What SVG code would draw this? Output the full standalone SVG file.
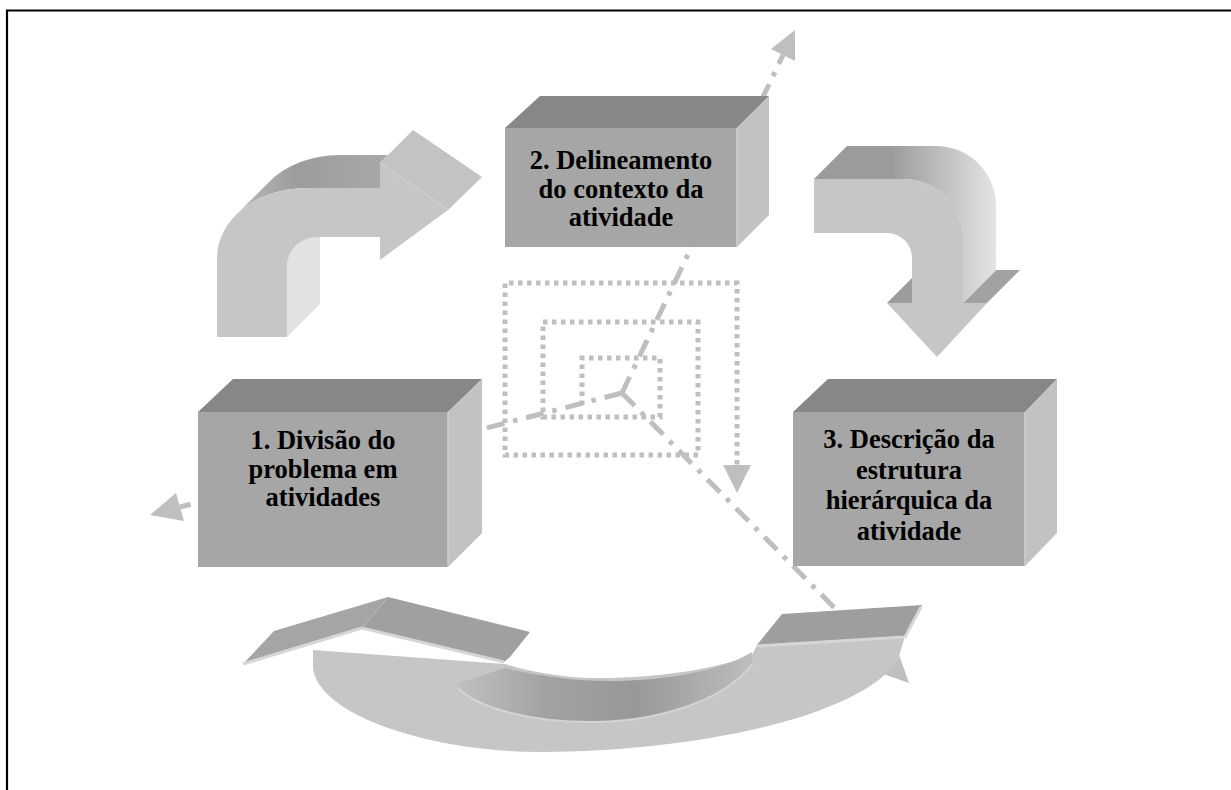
<svg xmlns="http://www.w3.org/2000/svg" width="1231" height="790" viewBox="0 0 1231 790">
<defs>
<style>
.front{fill:#a6a6a6}
.top{fill:#878787}
.side{fill:#c2c2c2}
.edge{fill:none;stroke:#cfcfcf;stroke-width:1.5}
.lbl{font-family:"Liberation Serif","Times New Roman",serif;font-weight:bold;font-size:26.5px;text-anchor:middle;fill:#000}
.dd{fill:none;stroke:#bfbfbf;stroke-width:5;stroke-dasharray:18 9 4.5 9}
.dot{fill:none;stroke:#bfbfbf;stroke-width:5;stroke-dasharray:4.5 4.5}
.ah{fill:#bfbfbf}
.af{fill:#c6c6c6}
.lip{fill:none;stroke:#d6d6d6;stroke-width:3;stroke-linejoin:round}
</style>
<linearGradient id="tlTop" gradientUnits="userSpaceOnUse" x1="236" y1="0" x2="390" y2="0">
<stop offset="0" stop-color="#bababa"/><stop offset="0.4" stop-color="#9c9c9c"/><stop offset="1" stop-color="#a9a9a9"/>
</linearGradient>
<linearGradient id="trCurve" gradientUnits="userSpaceOnUse" x1="890" y1="0" x2="996" y2="0">
<stop offset="0" stop-color="#9b9b9b"/><stop offset="1" stop-color="#e4e4e4"/>
</linearGradient>
<linearGradient id="band" gradientUnits="userSpaceOnUse" x1="458" y1="0" x2="752" y2="0">
<stop offset="0" stop-color="#c0c0c0"/><stop offset="0.3" stop-color="#a2a2a2"/><stop offset="0.6" stop-color="#989898"/><stop offset="1" stop-color="#bdbdbd"/>
</linearGradient>
</defs>
<rect x="0" y="0" width="1231" height="790" fill="#ffffff"/>
<path d="M7,790 L7,10.5 L1231,10.5" fill="none" stroke="#000" stroke-width="2.2"/>

<g id="connectors">
<path class="dot" d="M582,405 L582,358 L660,358 L660,417 L543,417 L543,322 L698,322 L698,455 L505,455 L505,283 L737,283 L737,466"/>
<polygon class="ah" points="723,465 751,465 737,493"/>
<path class="dd" d="M622,393 L783,55"/>
<polygon class="ah" points="795,30 795,61 771,49"/>
<path class="dd" d="M622,393 L180,507"/>
<polygon class="ah" points="150,515 176,493 184,521"/>
<path class="dd" d="M622,393 L888,662"/>
<polygon class="ah" points="909,683 898,652 878,672"/>
</g>

<g id="arrow-1-2">
<path fill="url(#tlTop)" d="M236,215 A90,70 0 0 1 307,188 L380,188 L380,163 L388,155 L340,155 A90,70 0 0 0 269,182 Z"/>
<path fill="#e2e2e2" d="M287,337 L287,267 A30,30 0 0 1 296,246 L329,213 A30,30 0 0 0 320,234 L320,304 Z"/>
<polygon fill="#c3c3c3" points="380,163 413,130 482,177 448,210"/>
<line x1="380" y1="163" x2="448" y2="210" stroke="#d8d8d8" stroke-width="1.5"/>
<path class="af" d="M217,337 L217,258 A90,70 0 0 1 307,188 L380,188 L380,163 L448,210 L380,260 L380,237 L317,237 A30,30 0 0 0 287,267 L287,337 Z"/>
</g>

<g id="arrow-2-3">
<polygon fill="#9c9c9c" points="887,303 912,303 945,270 920,270"/>
<polygon fill="#a2a2a2" points="963,303 987,303 1020,270 996,270"/>
<path fill="url(#trCurve)" d="M814,179 L847,146 L936,146 A60,60 0 0 1 996,206 L996,270 L963,303 L963,239 A60,60 0 0 0 903,179 Z"/>
<path class="af" d="M814,179 L903,179 A60,60 0 0 1 963,239 L963,303 L987,303 L937,357 L887,303 L912,303 L912,258 A25,25 0 0 0 887,233 L814,233 Z"/>
</g>

<g id="arrow-3-1">
<path class="af" d="M313,650 L313,668 C318,715 430,752 541,752 C690,752 860,718 898,660 L905,636 L757,645 L752,655 C720,668 660,678 600,678 C560,678 525,670 505,664 Z"/>
<path fill="url(#band)" d="M458,683 L505,668 C540,676 575,681 610,681 C660,681 720,672 752,652 L752,664 C722,704 650,722 592,722 C525,722 475,706 458,688 Z"/>
<path fill="none" stroke="#d4d4d4" stroke-width="2" d="M458,688 C475,706 525,722 592,722 C650,722 722,704 752,664"/>
<polygon fill="#a5a5a5" points="243,664 274,631 388,597 362,628"/>
<polygon fill="#a0a0a0" points="362,628 388,597 530,632 510,657 504,662"/>
<path class="lip" d="M243,664 L362,628 L504,662"/>
<line x1="362" y1="628" x2="388" y2="597" stroke="#b8b8b8" stroke-width="1"/>
<polygon fill="#9e9e9e" points="757,645 782,614 922,605 905,636"/>
<path class="lip" d="M757,646 L905,637 L921,607"/>
</g>

<g id="node-2">
<polygon class="top" points="505,128 540,96 769,96 737,128"/>
<polygon class="side" points="737,128 769,96 769,215 737,247"/>
<rect class="front" x="505" y="128" width="232" height="119"/>
<line class="edge" x1="737" y1="128" x2="737" y2="247"/>
<text class="lbl" x="621" y="169">2. Delineamento</text>
<text class="lbl" x="621" y="197.5">do contexto da</text>
<text class="lbl" x="621" y="226">atividade</text>
</g>

<g id="node-1">
<polygon class="top" points="198,412 233,379 482,379 448,412"/>
<polygon class="side" points="448,412 482,379 482,533 448,567"/>
<rect class="front" x="198" y="412" width="250" height="155"/>
<line class="edge" x1="448" y1="412" x2="448" y2="567"/>
<text class="lbl" x="323" y="449">1. Divisão do</text>
<text class="lbl" x="323" y="477.5">problema em</text>
<text class="lbl" x="323" y="506">atividades</text>
</g>

<g id="node-3">
<polygon class="top" points="793,412 828,379 1057,379 1025,412"/>
<polygon class="side" points="1025,412 1057,379 1057,533 1025,566"/>
<rect class="front" x="793" y="412" width="232" height="154"/>
<line class="edge" x1="1025" y1="412" x2="1025" y2="566"/>
<text class="lbl" x="909" y="448">3. Descrição da</text>
<text class="lbl" x="909" y="479">estrutura</text>
<text class="lbl" x="909" y="509">hierárquica da</text>
<text class="lbl" x="909" y="540">atividade</text>
</g>
</svg>
